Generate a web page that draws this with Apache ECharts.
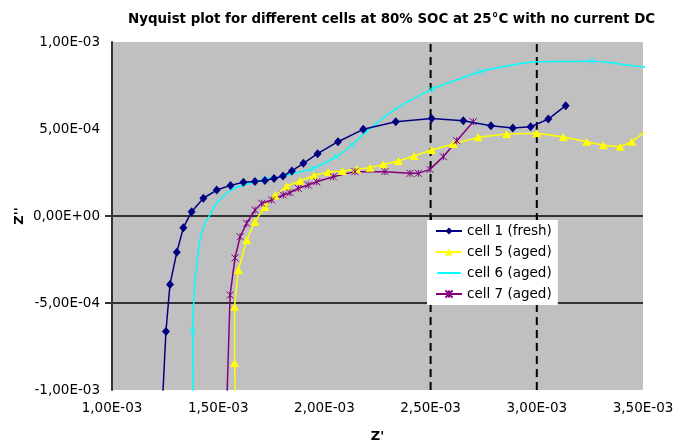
<!DOCTYPE html>
<html>
<head>
<meta charset="utf-8">
<script src="https://cdn.jsdelivr.net/npm/echarts@6/dist/echarts.min.js"></script>
<style>
  html, body { margin: 0; padding: 0; background: #fff; }
  #chart { width: 677px; height: 445px; }
</style>
</head>
<body>
<div id="chart"></div>
<script>
// Impedance spectra at 80% SOC, 25 °C, no DC current: [Z', Z''] in ohm
const cell1Points = [
  [1.238e-3, -1.057e-3], [1.254e-3, -6.64e-4], [1.273e-3, -3.93e-4], [1.305e-3, -2.09e-4],
  [1.336e-3, -6.7e-5], [1.375e-3, 2.5e-5], [1.430e-3, 1.02e-4], [1.493e-3, 1.49e-4],
  [1.558e-3, 1.76e-4], [1.619e-3, 1.94e-4], [1.673e-3, 1.98e-4], [1.720e-3, 2.04e-4],
  [1.763e-3, 2.16e-4], [1.805e-3, 2.30e-4], [1.847e-3, 2.59e-4], [1.901e-3, 3.03e-4],
  [1.968e-3, 3.58e-4], [2.064e-3, 4.27e-4], [2.183e-3, 4.98e-4], [2.336e-3, 5.42e-4],
  [2.505e-3, 5.61e-4], [2.654e-3, 5.48e-4], [2.784e-3, 5.19e-4], [2.887e-3, 5.06e-4],
  [2.971e-3, 5.13e-4], [3.054e-3, 5.57e-4], [3.136e-3, 6.34e-4]
];
const cell5Points = [
  [1.581e-3, -1.057e-3], [1.577e-3, -8.45e-4], [1.577e-3, -5.21e-4], [1.595e-3, -3.10e-4],
  [1.634e-3, -1.38e-4], [1.673e-3, -3.3e-5], [1.720e-3, 5.2e-5], [1.767e-3, 1.18e-4],
  [1.822e-3, 1.71e-4], [1.885e-3, 2.01e-4], [1.951e-3, 2.33e-4], [2.018e-3, 2.53e-4],
  [2.085e-3, 2.59e-4], [2.152e-3, 2.68e-4], [2.215e-3, 2.78e-4], [2.277e-3, 2.96e-4],
  [2.348e-3, 3.16e-4], [2.422e-3, 3.45e-4], [2.505e-3, 3.79e-4], [2.607e-3, 4.14e-4],
  [2.724e-3, 4.52e-4], [2.858e-3, 4.71e-4], [3.000e-3, 4.75e-4], [3.125e-3, 4.54e-4],
  [3.235e-3, 4.27e-4], [3.313e-3, 4.06e-4], [3.392e-3, 3.98e-4], [3.447e-3, 4.27e-4],
  [3.525e-3, 4.98e-4]
];
const cell6Points = [
  [1.383e-3, -1.057e-3], [1.380e-3, -6.59e-4], [1.391e-3, -3.68e-4], [1.399e-3, -2.91e-4],
  [1.414e-3, -1.38e-4], [1.438e-3, -4.2e-5], [1.461e-3, 6e-6], [1.493e-3, 7.3e-5],
  [1.540e-3, 1.30e-4], [1.587e-3, 1.65e-4], [1.650e-3, 1.88e-4], [1.720e-3, 2.11e-4],
  [1.806e-3, 2.30e-4], [1.870e-3, 2.49e-4], [1.948e-3, 2.74e-4], [2.057e-3, 3.42e-4],
  [2.129e-3, 4.08e-4], [2.215e-3, 5.04e-4], [2.340e-3, 6.19e-4], [2.505e-3, 7.28e-4],
  [2.623e-3, 7.82e-4], [2.733e-3, 8.29e-4], [2.858e-3, 8.62e-4], [3.000e-3, 8.87e-4],
  [3.258e-3, 8.90e-4], [3.353e-3, 8.81e-4], [3.423e-3, 8.68e-4], [3.517e-3, 8.55e-4]
];
// indices of cell 6 samples that carry a marker
const cell6Marked = [1, 11, 14, 15, 16, 19, 21, 24];
const cell7Points = [
  [1.541e-3, -1.057e-3], [1.556e-3, -4.54e-4], [1.579e-3, -2.41e-4], [1.603e-3, -1.19e-4],
  [1.634e-3, -4.2e-5], [1.673e-3, 3.4e-5], [1.705e-3, 7.3e-5], [1.752e-3, 9.2e-5],
  [1.806e-3, 1.21e-4], [1.838e-3, 1.34e-4], [1.877e-3, 1.59e-4], [1.924e-3, 1.78e-4],
  [1.964e-3, 1.97e-4], [2.042e-3, 2.26e-4], [2.144e-3, 2.55e-4], [2.285e-3, 2.55e-4],
  [2.403e-3, 2.45e-4], [2.442e-3, 2.45e-4], [2.497e-3, 2.68e-4], [2.560e-3, 3.41e-4],
  [2.623e-3, 4.33e-4], [2.701e-3, 5.42e-4]
];

const seriesNames = ['cell 1 (fresh)', 'cell 5 (aged)', 'cell 6 (aged)', 'cell 7 (aged)'];
const xTicks = { min: 1.0e-3, max: 3.5e-3, step: 5e-4 };
const yTicks = { min: -1.0e-3, max: 1.0e-3, step: 5e-4 };
const yReferenceLines = [0, -5e-4];
const xReferenceLines = [2.5e-3, 3.0e-3];

const FONT = 'DejaVu Sans';
const CROSS = 'path://M0,0L10,10M10,0L0,10';
const STAR = 'path://M0,0L10,10M10,0L0,10M5,0L5,10';
// plain stroke for a legend swatch: one horizontal line, height kept by two empty points
const PLAIN_LINE = 'path://M0,0L0,0M0,5L26,5M26,10L26,10';

// 1.00e-3 -> "1,00E-03"
function sci(v) {
  if (Math.abs(v) < 1e-12) v = 0;
  const s = v.toExponential(2);
  const [m, e] = s.split('e');
  const sign = e[0] === '-' ? '-' : '+';
  const digits = e.replace(/[+-]/, '').padStart(2, '0');
  return m.replace('.', ',') + 'E' + sign + digits;
}

const chart = echarts.init(document.getElementById('chart'), null, { renderer: 'canvas' });

const cell6Data = cell6Points.map((p, i) =>
  cell6Marked.includes(i) ? { value: p } : { value: p, symbol: 'none' });

// straight guide lines across the plot area, built from the axis range
function guideSeries(points, style) {
  return {
    type: 'line',
    data: points,
    symbol: 'none',
    silent: true,
    clip: false,
    lineStyle: style,
    z: 1,
    legendHoverLink: false,
    tooltip: { show: false }
  };
}
const guides = [
  ...yReferenceLines.map(v => guideSeries([[xTicks.min, v], [xTicks.max, v]],
    { color: '#333', width: 2, type: 'solid' })),
  ...xReferenceLines.map(v => guideSeries([[v, yTicks.min], [v, yTicks.max]],
    { color: '#000', width: 2, type: [8, 5] }))
];

chart.setOption({
  animation: false,
  backgroundColor: '#ffffff',
  title: {
    text: 'Nyquist plot for different cells at 80% SOC at 25°C with no current DC',
    left: 123,
    top: 8,
    textStyle: { fontFamily: FONT, fontSize: 13.4, fontWeight: 'bold', color: '#000' }
  },
  legend: {
    orient: 'vertical',
    left: 427,
    top: 220,
    data: [
      seriesNames[0],
      seriesNames[1],
      { name: seriesNames[2], icon: PLAIN_LINE,
        itemStyle: { color: 'transparent', borderColor: '#00ffff', borderWidth: 2 } },
      seriesNames[3]
    ],
    backgroundColor: '#ffffff',
    padding: [4, 6, 4, 8],
    itemWidth: 26,
    itemHeight: 9,
    itemGap: 7,
    textStyle: { fontFamily: FONT, fontSize: 13.5, color: '#000' }
  },
  grid: {
    left: 112, top: 42, right: 34, bottom: 55,
    outerBoundsMode: 'none',
    show: true, backgroundColor: '#c0c0c0', borderWidth: 0
  },
  xAxis: {
    type: 'value',
    min: xTicks.min, max: xTicks.max, interval: xTicks.step,
    name: "Z'",
    nameLocation: 'middle',
    nameGap: 40,
    nameMoveOverlap: false,
    nameTextStyle: { fontFamily: FONT, fontSize: 13, fontWeight: 'bold', color: '#000' },
    axisLine: { show: false },
    axisTick: {
      show: true, customValues: xReferenceLines, length: 6, inside: false,
      lineStyle: { color: '#000', width: 2 }
    },
    splitLine: { show: false },
    axisLabel: {
      fontFamily: FONT, fontSize: 13.5, color: '#000', margin: 11,
      formatter: sci
    }
  },
  yAxis: {
    type: 'value',
    min: yTicks.min, max: yTicks.max, interval: yTicks.step,
    name: "Z''",
    nameLocation: 'middle',
    nameGap: 86,
    nameMoveOverlap: false,
    nameRotate: 90,
    nameTextStyle: { fontFamily: FONT, fontSize: 13, fontWeight: 'bold', color: '#000' },
    axisLine: { show: true, lineStyle: { color: '#333', width: 2 } },
    axisTick: {
      show: true, customValues: yReferenceLines, length: 7,
      lineStyle: { color: '#333', width: 2 }
    },
    splitLine: { show: false },
    axisLabel: {
      fontFamily: FONT, fontSize: 13.5, color: '#000', margin: 12,
      formatter: sci
    }
  },
  series: [
    ...guides,
    {
      name: seriesNames[0],
      type: 'line',
      data: cell1Points,
      clip: true,
      color: '#000080',
      symbol: 'diamond',
      symbolSize: [8, 9],
      lineStyle: { color: '#000080', width: 1.5 },
      itemStyle: { color: '#000080' },
      z: 5
    },
    {
      name: seriesNames[1],
      type: 'line',
      data: cell5Points,
      clip: true,
      color: '#ffff00',
      symbol: 'triangle',
      symbolSize: [9, 8],
      lineStyle: { color: '#ffff00', width: 1.5 },
      itemStyle: { color: '#ffff00' },
      z: 3
    },
    {
      name: seriesNames[2],
      type: 'line',
      data: cell6Data,
      clip: true,
      smooth: 0.3,
      color: '#00ffff',
      symbol: CROSS,
      symbolSize: 7,
      lineStyle: { color: '#00ffff', width: 1.5 },
      itemStyle: { color: '#00ffff', borderColor: '#00ffff', borderWidth: 1 },
      z: 4
    },
    {
      name: seriesNames[3],
      type: 'line',
      data: cell7Points,
      clip: true,
      color: '#800080',
      symbol: STAR,
      symbolSize: 7,
      lineStyle: { color: '#800080', width: 1.5 },
      itemStyle: { color: '#800080', borderColor: '#800080', borderWidth: 1 },
      z: 3
    }
  ]
});
</script>
</body>
</html>
